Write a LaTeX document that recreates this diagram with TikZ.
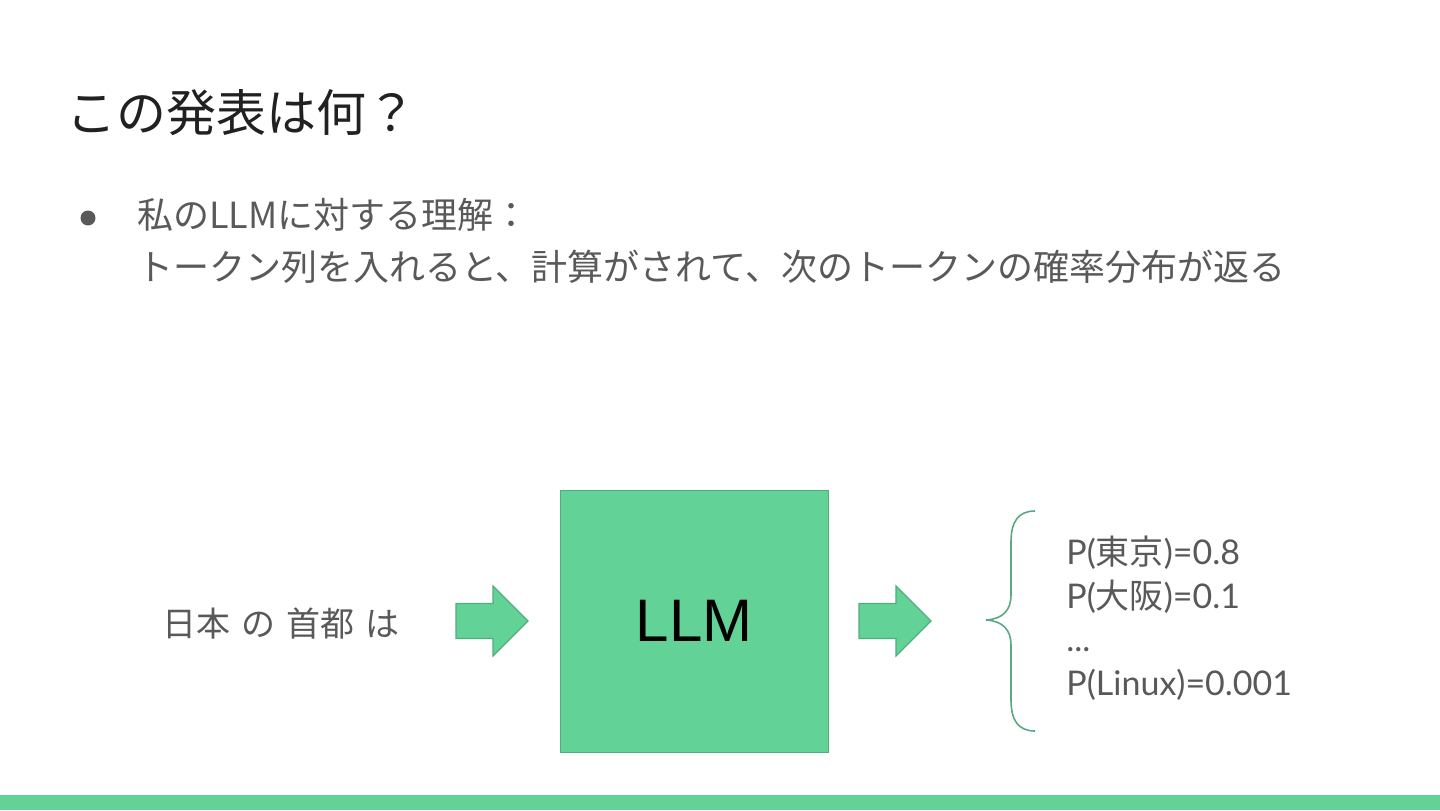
\documentclass[tikz,border=0pt]{standalone}
\usepackage{fontspec}
\setmainfont{Noto Sans CJK JP}
\newfontfamily\jpfont{Noto Sans CJK JP}
\newfontfamily\probfont{Lato}
\newfontfamily\arialfont{Liberation Sans}
\usetikzlibrary{positioning,calc}
\definecolor{llmgreen}{HTML}{63D297}
\definecolor{llmedge}{HTML}{4FAE7E}
\definecolor{bracegreen}{HTML}{5BA882}
\definecolor{textgray}{HTML}{595959}
\definecolor{titlegray}{HTML}{212121}
\tikzset{llmbox/.style={
            draw=llmedge,
            fill=llmgreen,
            inner sep=0pt,
            minimum width=134pt,
            minimum height=131pt,
            font=\arialfont\fontsize{30}{36}\selectfont
        },
        blockarrow/.style={
            draw=llmedge,
            fill=llmgreen,
            line width=0.6pt
        },
        body/.style={
            text=textgray,
            anchor=base west,
            inner sep=0pt,
            font=\fontsize{18}{22}\selectfont
        },
        prob/.style={
            text=textgray,
            anchor=base west,
            inner sep=0pt,
            font=\probfont\fontsize{17}{20}\selectfont
        }
    }

\begin{document}
\begin{tikzpicture}
        [x=0.5pt,y=-0.5pt,title/.style={text=titlegray,anchor=base west,inner sep=0pt,font=\fontsize{25}{30}\selectfont}]

        \useasboundingbox (0,0) rectangle (1440,810);
        \fill[llmgreen] (0,795) rectangle (1440,810);

        \node[title] (title) at (66,131) {この発表は何？};

        \fill[textgray] (88,218) circle (7.5);
        \node[body] (lineone) at (137,228) {私のLLMに対する理解：};
        \node[body] (linetwo) at (137,280) {トークン列を入れると、計算がされて、次のトークンの確率分布が返る};

        \node[text=textgray,inner sep=0pt,font=\fontsize{17}{20}\selectfont] (query) at (281,623) {日本\hspace{5.5pt}の\hspace{5.5pt}首都\hspace{5.5pt}は};

        \node[llmbox] (llm) at (694,621) {LLM};

        \foreach \ax in {456,859}
            \draw[blockarrow] (\ax,603.5) -- ++(37,0) -- ++(0,-17.5) -- ++(35,35) -- ++(-35,35) -- ++(0,-17.5) -- ++(-37,0) -- cycle;

        \draw[bracegreen,line width=0.8pt] (1035,511) .. controls (1018,511) and (1011,522) .. (1011,542)
            -- (1011,595) .. controls (1011,610) and (1003,619) .. (986,620)
            .. controls (1003,621) and (1011,630) .. (1011,645)
            -- (1011,700) .. controls (1011,720) and (1018,731) .. (1035,731);

        \node[prob] (pone) at (1066,564) {P({\jpfont 東京})=0.8};
        \node[prob] (ptwo) at (1066,608) {P({\jpfont 大阪})=0.1};
        \node[prob] (pdots) at (1066,651) {...};
        \node[prob] (pthree) at (1066,695) {P(Linux)=0.001};

    \end{tikzpicture}
\end{document}
